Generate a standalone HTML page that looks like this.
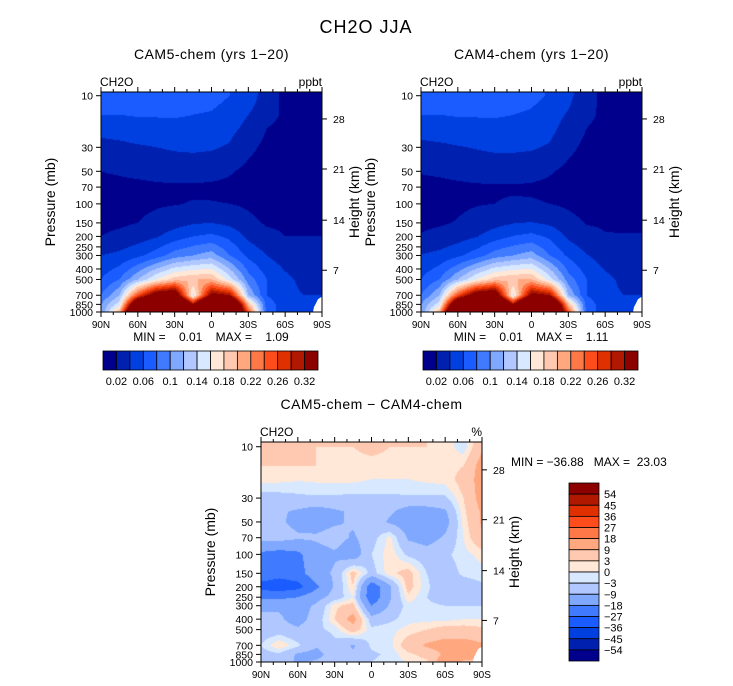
<!DOCTYPE html>
<html><head><meta charset="utf-8">
<style>
body{margin:0;background:#fff;width:733px;height:686px;overflow:hidden;position:relative;font-family:"Liberation Sans",sans-serif;}
canvas{position:absolute;}
svg{position:absolute;left:0;top:0;}
</style></head>
<body>
<canvas id="c1" width="221" height="220" style="left:101px;top:92px"></canvas>
<canvas id="c2" width="221" height="220" style="left:421px;top:92px"></canvas>
<canvas id="c3" width="221" height="220" style="left:261px;top:442px"></canvas>
<svg id="ov" width="733" height="686"></svg>
<script>
const lats=[90,75,60,45,30,15,0,-15,-30,-45,-60,-75,-90];
const levsA=[10,15,20,30,50,70,100,150,200,300,500,700,850,1000];
const cam5=[
[0.075,0.075,0.075,0.072,0.07,0.07,0.068,0.06,0.05,0.03,0.015,0.01,0.01],
[0.06,0.06,0.062,0.062,0.062,0.06,0.058,0.05,0.04,0.03,0.015,0.01,0.01],
[0.045,0.047,0.05,0.052,0.054,0.054,0.052,0.045,0.035,0.02,0.012,0.01,0.01],
[0.035,0.036,0.038,0.04,0.042,0.043,0.042,0.038,0.025,0.015,0.01,0.01,0.01],
[0.02,0.022,0.025,0.028,0.03,0.03,0.028,0.022,0.015,0.01,0.01,0.01,0.01],
[0.015,0.015,0.015,0.016,0.017,0.017,0.016,0.015,0.012,0.01,0.01,0.01,0.01],
[0.015,0.015,0.016,0.018,0.019,0.021,0.021,0.02,0.017,0.012,0.01,0.01,0.01],
[0.016,0.017,0.02,0.025,0.032,0.038,0.04,0.035,0.025,0.018,0.017,0.016,0.016],
[0.02,0.024,0.03,0.038,0.05,0.06,0.065,0.055,0.035,0.025,0.02,0.02,0.02],
[0.04,0.045,0.055,0.07,0.09,0.1,0.11,0.08,0.055,0.04,0.03,0.025,0.025],
[0.06,0.08,0.12,0.16,0.19,0.2,0.2,0.15,0.09,0.06,0.045,0.035,0.035],
[0.08,0.12,0.25,0.34,0.36,0.15,0.32,0.3,0.12,0.06,0.045,0.04,0.04],
[0.1,0.15,0.4,0.5,0.5,0.3,0.5,0.45,0.2,0.07,0.05,0.04,0.04],
[0.1,0.2,0.5,0.6,0.6,0.4,0.6,0.5,0.25,0.07,0.05,0.04,0.04]];
const cam4=[
[0.075,0.075,0.075,0.072,0.07,0.07,0.066,0.058,0.045,0.028,0.014,0.01,0.01],
[0.06,0.06,0.062,0.062,0.062,0.06,0.057,0.048,0.038,0.026,0.014,0.01,0.01],
[0.046,0.048,0.05,0.052,0.054,0.054,0.052,0.045,0.033,0.02,0.012,0.01,0.01],
[0.036,0.037,0.039,0.041,0.043,0.043,0.042,0.038,0.025,0.015,0.01,0.01,0.01],
[0.021,0.023,0.026,0.029,0.03,0.03,0.028,0.022,0.015,0.01,0.01,0.01,0.01],
[0.015,0.015,0.016,0.017,0.018,0.018,0.017,0.015,0.012,0.01,0.01,0.01,0.01],
[0.016,0.016,0.017,0.019,0.02,0.022,0.022,0.02,0.017,0.013,0.011,0.011,0.011],
[0.017,0.018,0.021,0.026,0.033,0.039,0.041,0.036,0.026,0.019,0.018,0.017,0.017],
[0.021,0.025,0.031,0.039,0.051,0.061,0.066,0.056,0.036,0.026,0.021,0.021,0.021],
[0.041,0.046,0.056,0.07,0.09,0.1,0.11,0.08,0.056,0.041,0.031,0.026,0.026],
[0.06,0.08,0.12,0.16,0.19,0.2,0.2,0.15,0.09,0.06,0.045,0.036,0.036],
[0.08,0.12,0.25,0.34,0.36,0.15,0.32,0.3,0.12,0.06,0.045,0.04,0.04],
[0.1,0.15,0.4,0.5,0.5,0.3,0.5,0.45,0.2,0.07,0.05,0.04,0.04],
[0.1,0.2,0.5,0.6,0.6,0.4,0.6,0.5,0.25,0.07,0.05,0.04,0.04]];
const levsD=[10,15,20,25,30,40,50,70,100,150,200,250,300,400,500,700,850,1000];
const diff=[
[5,5,4,3,3,3,4,3,3,3,2,-2,8],
[3,3,3,3,2,2,2,2,2,1,1,3,12],
[1,1,0.5,0.5,0.5,0.5,0,0,0,0.5,1,5,12],
[-2,-2,-2,-1,-1,-1,-1,-1,-1,-1,-1,4,12],
[-5,-5,-4,-4,-4,-5,-5,-5,-4,-4,-4,3,12],
[-8,-8,-10,-12,-10,-8,-6,-8,-12,-12,-10,2,10],
[-8,-8,-11,-12,-10,-8,-5,-10,-13,-14,-12,1,10],
[-6,-6,-8,-8,-6,-10,-5,1,-10,-12,-8,0,8],
[-20,-22,-20,-12,-10,-14,-3,2,-4,-6,-4,-1,1],
[-22,-24,-22,-12,-8,5,-5,2,5,-3,-6,-2,-1],
[-30,-32,-30,-20,-8,3,-25,-10,5,-2,-8,-6,-4],
[-20,-20,-18,-12,-6,0,-25,-10,2,-3,-6,-5,-4],
[-10,-10,-12,-8,2,5,-18,-8,-1,-2,-3,-3,-3],
[-8,-8,-12,-6,3,12,-6,-4,-1,-1,-1,0,0],
[-6,-6,-8,-4,-2,6,-2,-1,1,3,5,5,4],
[-3,3,-2,-8,-4,-10,-2,-1,6,10,12,12,10],
[-5,-4,-10,-12,-5,-8,-4,-2,2,5,10,12,10],
[-6,-6,-10,-8,-4,-6,-3,-1,0,2,15,8,8]];
const boundsA=[0.02,0.04,0.06,0.08,0.1,0.12,0.14,0.16,0.18,0.2,0.22,0.24,0.26,0.28,0.3];
const boundsD=[-54,-45,-36,-27,-18,-9,-3,0,3,9,18,27,36,45,54];
const colors=["#00008c","#0020b0","#0040e0","#1a5cff","#3f7aff","#80a8ff","#b0c8ff","#d8e8ff","#ffe8d8","#ffc8b0","#ffa880","#ff7848","#ff4c1c","#e03000","#b01800","#8c0000"];
const cbLabelsA=["0.02","0.06","0.1","0.14","0.18","0.22","0.26","0.32"];
const cbLabelsD=["54","45","36","27","18","9","3","0","\u22123","\u22129","\u221218","\u221227","\u221236","\u221245","\u221254"];
const xTickLabels=["90N","60N","30N","0","30S","60S","90S"];
const pTicks=[10,30,50,70,100,150,200,250,300,400,500,700,850,1000];
const hTickLabels=["28","21","14","7"];
const hTickP=[16.4,47.6,141.6,411];

function idx(arr,v,desc){
  const n=arr.length;
  for(let k=0;k<n-1;k++){
    const a=arr[k],b=arr[k+1];
    if(desc? (v<=a&&v>=b):(v>=a&&v<=b)) return k+(v-a)/(b-a);
  }
  return desc? (v>arr[0]?0:n-1):(v<arr[0]?0:n-1);
}
function colorFor(v,bounds){let c=0;while(c<bounds.length&&v>=bounds[c])c++;return colors[c];}
function hexRgb(h){return [parseInt(h.substr(1,2),16),parseInt(h.substr(3,2),16),parseInt(h.substr(5,2),16)];}
function drawField(id,levs,grid,bounds,pTop){
  const cv=document.getElementById(id),ctx=cv.getContext('2d');
  const w=cv.width,h=cv.height,img=ctx.createImageData(w,h);
  const lt=Math.log10(pTop),lb=3,llevs=levs.map(Math.log10);
  for(let j=0;j<h;j++){
    const lp=lt+(lb-lt)*(j+0.5)/h;
    let fy=idx(llevs,lp,false);let y0=Math.min(Math.floor(fy),levs.length-2),ty=fy-y0;
    for(let i=0;i<w;i++){
      const lat=90-180*(i+0.5)/w;
      let fx=idx(lats,lat,true);let x0=Math.min(Math.floor(fx),lats.length-2),tx=fx-x0;
      const v=(grid[y0][x0]*(1-tx)+grid[y0][x0+1]*tx)*(1-ty)+(grid[y0+1][x0]*(1-tx)+grid[y0+1][x0+1]*tx)*ty;
      const c=hexRgb(colorFor(v,bounds));const o=(j*w+i)*4;
      img.data[o]=c[0];img.data[o+1]=c[1];img.data[o+2]=c[2];img.data[o+3]=255;
    }
  }
  ctx.putImageData(img,0,0);
}
drawField('c1',levsA,cam5,boundsA,9.24);
drawField('c2',levsA,cam4,boundsA,9.24);
drawField('c3',levsD,diff,boundsD,9.04);

const NS='http://www.w3.org/2000/svg',ov=document.getElementById('ov');
function el(tag,attrs,txt){const e=document.createElementNS(NS,tag);for(const k in attrs)e.setAttribute(k,attrs[k]);if(txt!==undefined)e.textContent=txt;ov.appendChild(e);return e;}
function text(x,y,s,size,anchor,name,extra){const t=el('text',Object.assign({x:x,y:y,'font-size':size,'text-anchor':anchor||'start','font-family':'Liberation Sans, sans-serif',fill:'#000',style:'white-space:pre'},extra||{}),s);

return t;}

text(366,33,'CH2O JJA',18,'middle','main-title',{'letter-spacing':'1'});

function panel(L,T,W,H,pTop,title,unit,prefix){
  const yOf=p=>T+(Math.log10(p)-Math.log10(pTop))/(3-Math.log10(pTop))*H;
  const xOf=k=>L+k*W/6;
  const m=el('polygon',{points:`${L+W},${yOf(720)} ${L+W-4},${yOf(760)} ${L+W-6},${yOf(830)} ${L+W-8},${yOf(900)} ${L+W-9},${yOf(1000)} ${L+W},${yOf(1000)}`,fill:'#fff'});
  
  
  const r=el('rect',{x:L,y:T,width:W,height:H,fill:'none',stroke:'#000','stroke-width':1});
  
  
  text(L+W/2,T-33,title,14,'middle',prefix+'-title',{'letter-spacing':'0.5'});
  text(L-1,T-6,'CH2O',12,'start',prefix+'-variable-label');
  text(L+W,T-6,unit,12,'end',prefix+'-unit-label');
  for(let k=0;k<=18;k++){
    const x=L+k*W/18,len=(k%3===0)?5:3;
    el('line',{x1:x,x2:x,y1:T+H,y2:T+H+len,stroke:'#000'});
    el('line',{x1:x,x2:x,y1:T,y2:T-len,stroke:'#000'});
  }
  xTickLabels.forEach((s,k)=>text(xOf(k),T+H+16,s,10,'middle',prefix+'-x-tick-label'));
  pTicks.forEach(p=>{const y=yOf(p);el('line',{x1:L-5,x2:L,y1:y,y2:y,stroke:'#000'});
    text(L-8,y+4,String(p),10.5,'end',prefix+'-y-tick-label');});
  hTickLabels.forEach((s,k)=>{const y=yOf(hTickP[k]);el('line',{x1:L+W,x2:L+W+5,y1:y,y2:y,stroke:'#000'});
    text(L+W+11,y+4,s,10.5,'start',prefix+'-height-tick-label');});
  text(0,0,'Pressure (mb)',14,'middle',prefix+'-y-axis-title',{transform:`translate(${L-46},${T+H/2}) rotate(-90)`});
  text(0,0,'Height (km)',14,'middle',prefix+'-height-axis-title',{transform:`translate(${L+W+37},${T+H/2}) rotate(-90)`});
}
panel(101,92,221,220,9.24,'CAM5-chem (yrs 1\u221220)','ppbt','cam5');
panel(421,92,221,220,9.24,'CAM4-chem (yrs 1\u221220)','ppbt','cam4');
panel(261,442,221,220,9.04,'CAM5-chem \u2212 CAM4-chem','%','diff');

text(211,341,'MIN =    0.01    MAX =    1.09',12,'middle','cam5-min-max');
text(531,341,'MIN =    0.01    MAX =    1.11',12,'middle','cam4-min-max');
text(511,466,'MIN = \u221236.88   MAX =  23.03',12,'start','diff-min-max');

function hbar(L,T,W,H,prefix){
  const bw=W/colors.length;
  colors.forEach((c,k)=>{const r=el('rect',{x:L+k*bw,y:T,width:bw,height:H,fill:c,stroke:'#000','stroke-width':0.8});
    
    });
  cbLabelsA.forEach((s,k)=>text(L+(2*k+1)*bw,T+H+15,s,11,'middle',prefix+'-colorbar-label'));
}
hbar(103,351,215,19,'cam5');
hbar(423,351,215,19,'cam4');
(function(){
  const L=569,T=483,W=30,H=178,bh=H/colors.length;
  colors.slice().reverse().forEach((c,k)=>{const r=el('rect',{x:L,y:T+k*bh,width:W,height:bh,fill:c,stroke:'#000','stroke-width':0.8});
    
    });
  cbLabelsD.forEach((s,k)=>text(L+35,T+(k+1)*bh+4,s,11,'start','diff-colorbar-label'));
})();
</script>
</body></html>
